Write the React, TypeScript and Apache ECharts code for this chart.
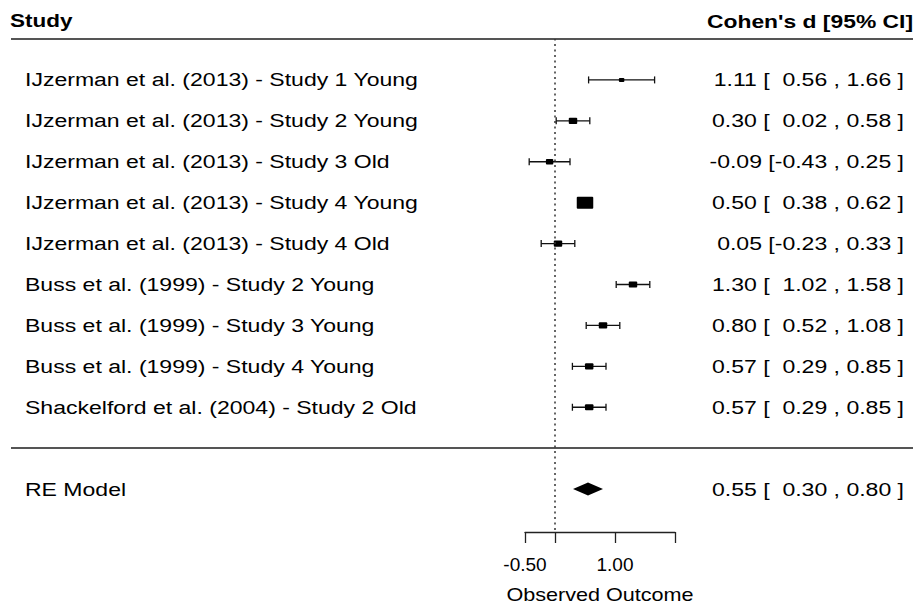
import React, { useEffect, useRef } from "react";
import * as echarts from "echarts";

// ---- data ----
const studies = [
  "IJzerman et al. (2013) - Study 1 Young",
  "IJzerman et al. (2013) - Study 2 Young",
  "IJzerman et al. (2013) - Study 3 Old",
  "IJzerman et al. (2013) - Study 4 Young",
  "IJzerman et al. (2013) - Study 4 Old",
  "Buss et al. (1999) - Study 2 Young",
  "Buss et al. (1999) - Study 3 Young",
  "Buss et al. (1999) - Study 4 Young",
  "Shackelford et al. (2004) - Study 2 Old",
];
const estimates = [1.11, 0.3, -0.09, 0.5, 0.05, 1.3, 0.8, 0.57, 0.57];
const ciLower = [0.56, 0.02, -0.43, 0.38, -0.23, 1.02, 0.52, 0.29, 0.29];
const ciUpper = [1.66, 0.58, 0.25, 0.62, 0.33, 1.58, 1.08, 0.85, 0.85];
const reLabel = "RE Model";
const reEstimate = [0.55];
const reLower = [0.3];
const reUpper = [0.8];
const axisTickValues = [-0.5, 0, 1, 2];
const axisLabelValues = [-0.5, 1];
const headerLeft = "Study";
const headerRight = "Cohen's d [95% CI]";
const axisTitle = "Observed Outcome";

// ---- layout ----
const FONT = "'Liberation Sans', Arial, Helvetica, sans-serif";
const PX_PER_UNIT = 60;
const ZERO_PX = 555;
const GRID_LEFT = 11;
const GRID_RIGHT_EDGE = 913;
const TEXT_SCALE = 1.28;

const fmt = (v: number) => v.toFixed(2);
const ciText = (e: number, lo: number, hi: number) =>
  `${fmt(e)} [${lo < 0 ? fmt(lo) : "  " + fmt(lo)} , ${fmt(hi)} ]`;

const k = studies.length;
const invSe = studies.map((_, i) => 3.92 / (ciUpper[i] - ciLower[i]));
const wMin = Math.min(...invSe);
const wMax = Math.max(...invSe);

export default function App() {
  const ref = useRef<HTMLDivElement>(null);

  useEffect(() => {
    if (!ref.current) return;
    const chart = echarts.init(ref.current, null, { renderer: "svg" });

    const textBase = { fontSize: 18, fontFamily: FONT, fill: "#000" };

    const studyData = studies.map((name, i) => [
      estimates[i],
      k - i,
      ciLower[i],
      ciUpper[i],
      i,
    ]);

    const option: any = {
      animation: false,
      backgroundColor: "#fff",
      grid: [
        {
          left: GRID_LEFT,
          width: GRID_RIGHT_EDGE - GRID_LEFT,
          top: 39,
          height: 491,
        },
        { left: 525, width: 150, top: 500, height: 32 },
      ],
      xAxis: [
        {
          gridIndex: 0,
          type: "value",
          min: (GRID_LEFT - ZERO_PX) / PX_PER_UNIT,
          max: (GRID_RIGHT_EDGE - ZERO_PX) / PX_PER_UNIT,
          show: false,
        },
        {
          gridIndex: 1,
          type: "value",
          min: -0.5,
          max: 2,
          position: "bottom",
          splitLine: { show: false },
          axisLine: { show: true, onZero: false, lineStyle: { color: "#222", width: 1.3 } },
          axisTick: {
            show: true,
            inside: false,
            length: 11,
            customValues: axisTickValues,
            lineStyle: { color: "#222", width: 1.3 },
          },
          axisLabel: {
            show: true,
            customValues: axisLabelValues,
            showMinLabel: true,
            showMaxLabel: true,
            formatter: (v: number) => fmt(v),
            fontSize: 19,
            fontFamily: FONT,
            color: "#000",
            margin: 23,
          },
        },
      ],
      yAxis: [
        { gridIndex: 0, type: "value", min: -2, max: 10, show: false },
        { gridIndex: 1, type: "value", min: 0, max: 1, show: false },
      ],
      graphic: [
        {
          type: "text",
          x: 10,
          y: 21,
          scaleX: 1.25,
          style: { ...textBase, text: headerLeft, fontWeight: "bold", align: "left", verticalAlign: "middle" },
        },
        {
          type: "text",
          x: 913,
          y: 21,
          scaleX: 1.27,
          style: { ...textBase, text: headerRight, fontWeight: "bold", align: "right", verticalAlign: "middle" },
        },
        {
          type: "text",
          x: 600,
          y: 595,
          scaleX: 1.2,
          style: { ...textBase, text: axisTitle, align: "center", verticalAlign: "middle" },
        },
      ],
      series: [
        {
          type: "custom",
          xAxisIndex: 0,
          yAxisIndex: 0,
          data: studyData,
          encode: { x: 0, y: 1 },
          renderItem: (params: any, api: any) => {
            const est = api.value(0);
            const row = api.value(1);
            const lo = api.value(2);
            const hi = api.value(3);
            const idx = api.value(4);
            const [xe, y] = api.coord([est, row]);
            const [xl] = api.coord([lo, row]);
            const [xh] = api.coord([hi, row]);
            const psize = 0.5 + (invSe[idx] - wMin) / (wMax - wMin);
            const w = psize * 11;
            const h = psize * 8;
            const stroke = { stroke: "#111", lineWidth: 1.3 };
            return {
              type: "group",
              children: [
                { type: "line", shape: { x1: xl, y1: y, x2: xh, y2: y }, style: stroke },
                { type: "line", shape: { x1: xl, y1: y - 3.5, x2: xl, y2: y + 3.5 }, style: stroke },
                { type: "line", shape: { x1: xh, y1: y - 3.5, x2: xh, y2: y + 3.5 }, style: stroke },
                {
                  type: "rect",
                  shape: { x: xe - w / 2, y: y - h / 2, width: w, height: h, r: 1 },
                  style: { fill: "#000" },
                },
                {
                  type: "text",
                  x: 25,
                  y: y,
                  scaleX: TEXT_SCALE,
                  style: { ...textBase, text: studies[idx], align: "left", verticalAlign: "middle" },
                },
                {
                  type: "text",
                  x: 904,
                  y: y,
                  scaleX: TEXT_SCALE,
                  style: { ...textBase, text: ciText(est, lo, hi), align: "right", verticalAlign: "middle" },
                },
              ],
            };
          },
          markLine: {
            silent: true,
            symbol: ["none", "none"],
            label: { show: false },
            animation: false,
            data: [
              { yAxis: 10, lineStyle: { color: "#555", width: 2, type: "solid" } },
              { yAxis: 0, lineStyle: { color: "#555", width: 2, type: "solid" } },
              { xAxis: 0, lineStyle: { color: "#333", width: 1.5, type: [2, 3.5] } },
            ],
          },
          z: 3,
        },
        {
          type: "custom",
          xAxisIndex: 0,
          yAxisIndex: 0,
          data: reEstimate.map((e, i) => [e, -1, reLower[i], reUpper[i]]),
          encode: { x: 0, y: 1 },
          renderItem: (params: any, api: any) => {
            const est = api.value(0);
            const row = api.value(1);
            const lo = api.value(2);
            const hi = api.value(3);
            const [xe, y] = api.coord([est, row]);
            const [xl] = api.coord([lo, row]);
            const [xh] = api.coord([hi, row]);
            return {
              type: "group",
              children: [
                {
                  type: "polygon",
                  shape: { points: [[xl, y], [xe, y - 6.5], [xh, y], [xe, y + 6.5]] },
                  style: { fill: "#000" },
                },
                {
                  type: "text",
                  x: 25,
                  y: y,
                  scaleX: TEXT_SCALE,
                  style: { ...textBase, text: reLabel, align: "left", verticalAlign: "middle" },
                },
                {
                  type: "text",
                  x: 904,
                  y: y,
                  scaleX: TEXT_SCALE,
                  style: { ...textBase, text: ciText(est, lo, hi), align: "right", verticalAlign: "middle" },
                },
              ],
            };
          },
          z: 3,
        },
      ],
    };

    chart.setOption(option);
    return () => chart.dispose();
  }, []);

  return <div ref={ref} style={{ width: 915, height: 606, position: "absolute", left: 0, top: 0 }} />;
}
